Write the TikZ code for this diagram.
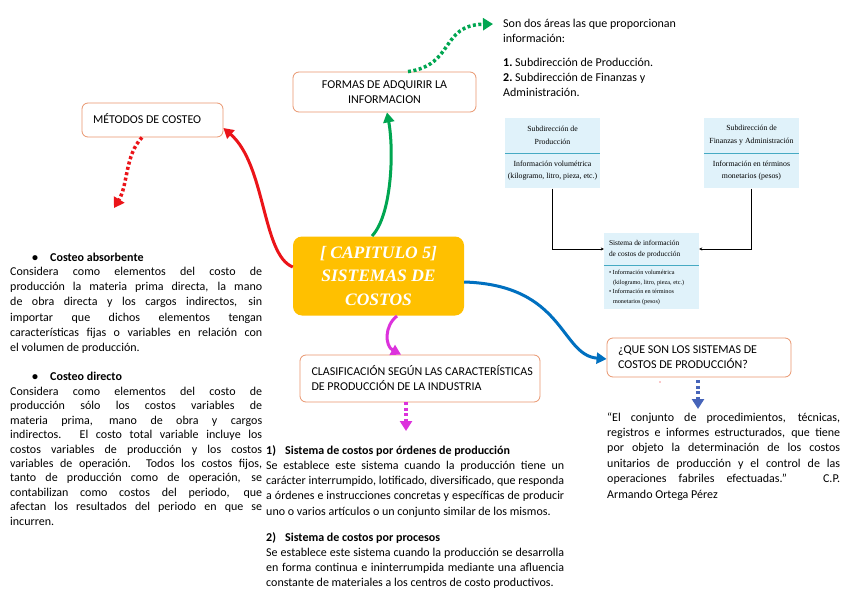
\documentclass[tikz,border=0pt]{standalone}
\usepackage{fontspec}
\setmainfont{Carlito}
\newfontfamily\cenfont{Liberation Serif}
\newfontfamily\figfont{Liberation Serif}
\usetikzlibrary{arrows.meta}
\definecolor{boxorange}{RGB}{233,150,110}
\definecolor{cenfill}{RGB}{255,192,0}
\definecolor{myred}{RGB}{235,20,25}
\definecolor{mygreen}{RGB}{0,166,81}
\definecolor{myblue}{RGB}{0,112,192}
\definecolor{mymag}{RGB}{220,50,220}
\definecolor{dotblue}{RGB}{70,100,185}
\definecolor{figblue}{RGB}{224,242,250}
\definecolor{figteal}{RGB}{70,170,195}
\newcommand{\bodyf}{\fontsize{12}{15.2}\selectfont}
\newcommand{\boxf}{\fontsize{12}{15}\selectfont}
\newcommand{\jl}[1]{\noindent\makebox[\hsize][s]{#1}\par}
\newcommand{\lastl}[1]{\noindent #1\par}
\tikzset{
  mbox/.style={draw=boxorange, line width=0.8pt, rounded corners=6pt, fill=white, font=\boxf, inner ysep=0pt},
  cbox/.style={fill=cenfill, rounded corners=9pt, text=white, align=flush center, minimum width=171pt, minimum height=79pt, inner sep=0pt, font=\cenfont\bfseries\itshape\fontsize{17.5}{23.5}\selectfont},
  para/.style={anchor=base west, inner sep=0pt, font=\bodyf, align=justify},
  plain/.style={anchor=base west, inner sep=0pt, font=\bodyf, align=flush left},
  head/.style={anchor=base west, inner sep=0pt, font=\bodyf\bfseries},
  solidarr/.style={line width=3pt, -{Triangle[length=10pt,width=11pt]}},
  dotarr/.style={line width=3.5pt, dash pattern=on 3pt off 2.5pt, -{Triangle[length=10pt,width=12pt]}},
  fighead/.style={fill=figblue, minimum width=95pt, inner sep=0pt, align=flush center, font=\figfont\fontsize{7.8}{13}\selectfont},
  figline/.style={line width=0.6pt, black, -{Stealth[length=3pt,width=3pt]}},
}
\begin{document}
\begin{tikzpicture}[x=1pt,y=-1pt]
\useasboundingbox (0,0) rectangle (846,602);
\fill[white] (0,0) rectangle (846,602);

% central node
\node[cbox] (cen) at (378.5,276) {[ CAPITULO 5]\\SISTEMAS DE\\COSTOS};

% boxes
\node[mbox, text width=161pt, inner xsep=11pt, minimum height=40pt, align=flush center] (formas) at (384.5,92) {FORMAS DE ADQUIRIR LA\\INFORMACION};
\node[mbox, text width=119pt, inner xsep=11pt, minimum height=34pt, align=flush left] (metodos) at (152.5,120) {\raisebox{3pt}{MÉTODOS DE COSTEO}};
\node[mbox, text width=217pt, inner xsep=11.5pt, minimum height=47pt, align=flush left] (clasif) at (420,378.5) {\mbox{CLASIFICACIÓN SEGÚN LAS CARACTERÍSTICAS}\\\mbox{DE PRODUCCIÓN DE LA INDUSTRIA}};
\node[mbox, text width=162pt, inner xsep=11pt, minimum height=39pt, align=flush left] (que) at (699,357.5) {\mbox{¿QUE SON LOS SISTEMAS DE}\\\mbox{COSTOS DE PRODUCCIÓN?}};

% solid arrows from center
\draw[solidarr, myred] (cen.west |- 0,267) .. controls (262,255) and (266,165) .. (metodos.east |- 0,128);
\coordinate (gstart) at (372,236);
\draw[solidarr, mygreen] (gstart) .. controls (392,215) and (394,150) .. (formas.south -| 387,0);
\draw[solidarr, myblue] (cen.east |- 0,282) .. controls (565,285) and (560,355) .. (que.west |- 0,359);
\coordinate (mstart) at (397,316);
\draw[solidarr, mymag] (mstart) .. controls (384,326) and (385,346) .. (clasif.north -| 401,0);

% dotted arrows
\coordinate (gend) at (493,24);
\draw[dotarr, mygreen] (formas.north -| 408,0) .. controls (455,65) and (440,25) .. (gend);
\coordinate (rend) at (114,208);
\draw[dotarr, myred] (metodos.south -| 142,0) .. controls (125,155) and (128,185) .. (rend);
\coordinate (mend) at (406,431);
\draw[dotarr, mymag] (clasif.south -| 406,0) -- (mend);
\coordinate (bend) at (698,409);
\draw[dotarr, dotblue] (que.south -| 698,0) ++(0,3) -- (bend);
\fill[myred] (660,382) circle (0.7pt);

% top right text
\node[plain, text width=210pt] (sondos) at (503,27.5) {Son dos áreas las que proporcionan\\información:};
\node[plain, text width=210pt] (subs) at (503,66.5) {\textbf{1.}\ Subdirección de Producción.\\\textbf{2.}\ Subdirección de Finanzas y\\Administración.};

% figure
\node[fighead, minimum height=35pt] (f1h) at (552.5,135.5) {Subdirección de\\Producción};
\node[fighead, minimum height=35pt, anchor=north, font=\figfont\fontsize{7.8}{12}\selectfont] (f1b) at (f1h.south) {Información volumétrica\\(kilogramo, litro, pieza, etc.)};
\draw[figteal, line width=0.8pt] (f1h.south west) -- (f1h.south east);
\node[fighead, minimum height=35pt] (f2h) at (751.5,135.5) {Subdirección de\\Finanzas y Administración};
\node[fighead, minimum height=35pt, anchor=north, font=\figfont\fontsize{7.8}{12}\selectfont] (f2b) at (f2h.south) {Información en términos\\monetarios (pesos)};
\draw[figteal, line width=0.8pt] (f2h.south west) -- (f2h.south east);
\node[fighead, minimum height=32pt, text width=85pt, inner xsep=5pt, align=flush left, font=\figfont\fontsize{7.4}{11.5}\selectfont] (f3h) at (651.5,249) {Sistema de información\\de costos de producción};
\node[fighead, minimum height=44pt, text width=85pt, inner xsep=5pt, align=flush left, anchor=north, font=\figfont\fontsize{6.2}{9.8}\selectfont] (f3b) at (f3h.south) {• Información volumétrica\\\hspace*{4pt}(kilogramo, litro, pieza, etc.)\\• Información en términos\\\hspace*{4pt}monetarios (pesos)};
\draw[figteal, line width=0.8pt] (f3h.south west) -- (f3h.south east);
\draw[figline] (f1b.south) |- (f3h.west);
\draw[figline] (f2b.south) |- (f3h.east);

% left texts
\node[head] (absB) at (32,261) {•};
\node[head] (absH) at (50,261) {Costeo absorbente};
\node[para, text width=252pt] (absP) at (10,275.5) {%
\jl{Considera como elementos del costo de}
\jl{producción la materia prima directa, la mano}
\jl{de obra directa y los cargos indirectos, sin}
\jl{importar que dichos elementos tengan}
\jl{características fijas o variables en relación con}
\lastl{el volumen de producción.}};

\node[head] (dirB) at (32,380) {•};
\node[head] (dirH) at (50,380) {Costeo directo};
\node[para, text width=252pt, font=\fontsize{12}{14.4}\selectfont] (dirP) at (10,395.5) {%
\jl{Considera como elementos del costo de}
\jl{producción sólo los costos variables de}
\jl{materia prima, mano de obra y cargos}
\jl{indirectos. El costo total variable incluye los}
\jl{costos variables de producción y los costos}
\jl{variables de operación. Todos los costos fijos,}
\jl{tanto de producción como de operación, se}
\jl{contabilizan como costos del periodo, que}
\jl{afectan los resultados del periodo en que se}
\lastl{incurren.}};

% bottom middle
\node[head] (s1n) at (266,454.5) {1)};
\node[head] (s1H) at (285,454.5) {Sistema de costos por órdenes de producción};
\node[para, text width=298pt] (s1P) at (266,469.5) {%
\jl{Se establece este sistema cuando la producción tiene un}
\jl{carácter interrumpido, lotificado, diversificado, que responda}
\jl{a órdenes e instrucciones concretas y específicas de producir}
\lastl{uno o varios artículos o un conjunto similar de los mismos.}};
\node[head] (s2n) at (266,541) {2)};
\node[head] (s2H) at (285,541) {Sistema de costos por procesos};
\node[para, text width=298pt] (s2P) at (266,556.5) {%
\jl{Se establece este sistema cuando la producción se desarrolla}
\jl{en forma continua e ininterrumpida mediante una afluencia}
\lastl{constante de materiales a los centros de costo productivos.}};

% quote
\node[para, text width=233pt, font=\fontsize{12}{15.4}\selectfont] (quote) at (607,421) {%
\jl{“El conjunto de procedimientos, técnicas,}
\jl{registros e informes estructurados, que tiene}
\jl{por objeto la determinación de los costos}
\jl{unitarios de producción y el control de las}
\jl{operaciones fabriles efectuadas.”\ \ \ C.P.}
\lastl{Armando Ortega Pérez}};
\end{tikzpicture}
\end{document}
